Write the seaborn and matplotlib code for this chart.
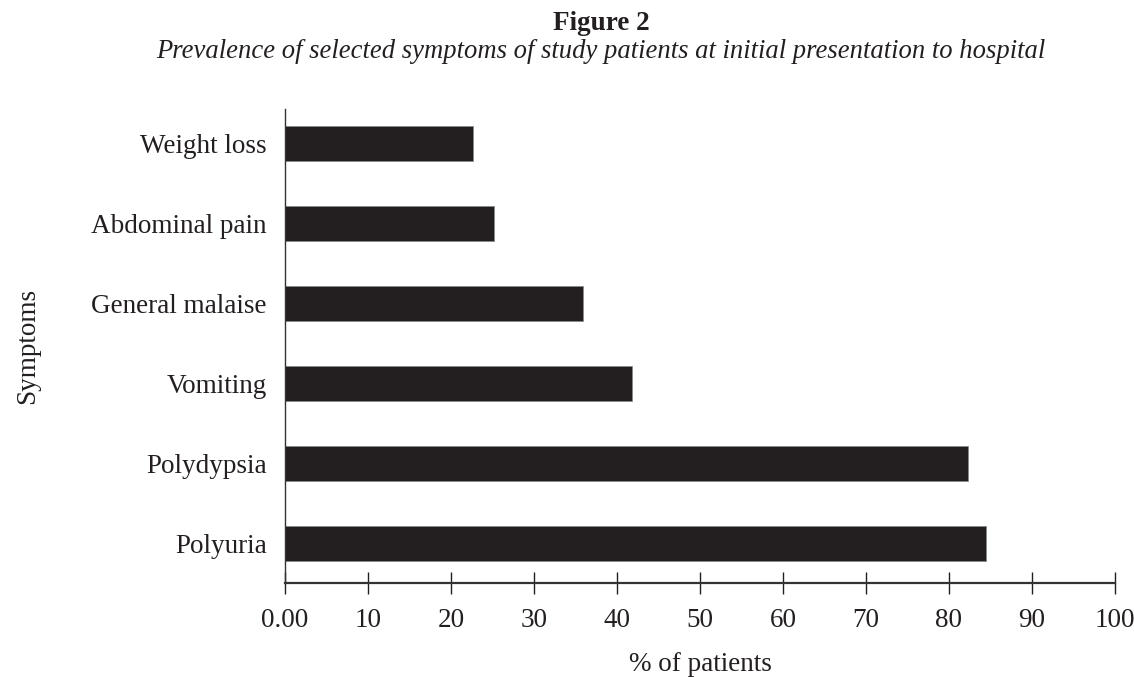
import matplotlib
matplotlib.use("Agg")
import matplotlib.pyplot as plt
import seaborn as sns
import pandas as pd

# values
symptoms = ["Weight loss", "Abdominal pain", "General malaise", "Vomiting", "Polydypsia", "Polyuria"]
percent = [22.6, 25.2, 35.9, 41.8, 82.3, 84.5]
xticks = [0, 10, 20, 30, 40, 50, 60, 70, 80, 90, 100]
xtick_labels = ["0.00", "10", "20", "30", "40", "50", "60", "70", "80", "90", "100"]

df = pd.DataFrame({"symptom": symptoms, "percent": percent})

sns.set_style("white")
plt.rcParams["font.family"] = ["Liberation Serif", "DejaVu Serif"]
ink = "#231f20"

fig = plt.figure(figsize=(11.34, 6.77), dpi=100)
ax = fig.add_axes([0.2513, 0.1388, 0.7319, 0.7009])

sns.barplot(data=df, x="percent", y="symptom", order=symptoms, color=ink,
            width=0.44, saturation=1, edgecolor="#8a8a8a", linewidth=0.6, ax=ax)

ax.set_xlim(0, 100)
ax.set_ylim(5.49, -0.44)
ax.set_xticks(xticks)
ax.set_xticklabels(xtick_labels, fontsize=19.5)
ax.tick_params(axis="x", bottom=True, direction="inout", length=16, width=1, pad=10,
               color=ink, labelcolor=ink)
ax.tick_params(axis="y", left=False, length=0, pad=13, labelsize=19.5, labelcolor=ink)

for s in ["top", "right"]:
    ax.spines[s].set_visible(False)
ax.spines["bottom"].set_linewidth(1.6)
ax.spines["bottom"].set_color("#333333")
ax.spines["left"].set_linewidth(1.0)
ax.spines["left"].set_color("#333333")

ax.set_xlabel("% of patients", fontsize=19.5, labelpad=14, color=ink)
ax.set_ylabel("Symptoms", fontsize=19.5, color=ink)
ax.yaxis.set_label_coords(-0.295, 0.5)

fig.text(0.53, 0.9557, "Figure 2", ha="center", va="baseline", fontsize=19.5,
         fontweight="bold", color=ink)
fig.text(0.53, 0.9143, "Prevalence of selected symptoms of study patients at initial presentation to hospital",
         ha="center", va="baseline", fontsize=19.2, style="italic", color=ink)

fig.savefig("out.png", dpi=100)
